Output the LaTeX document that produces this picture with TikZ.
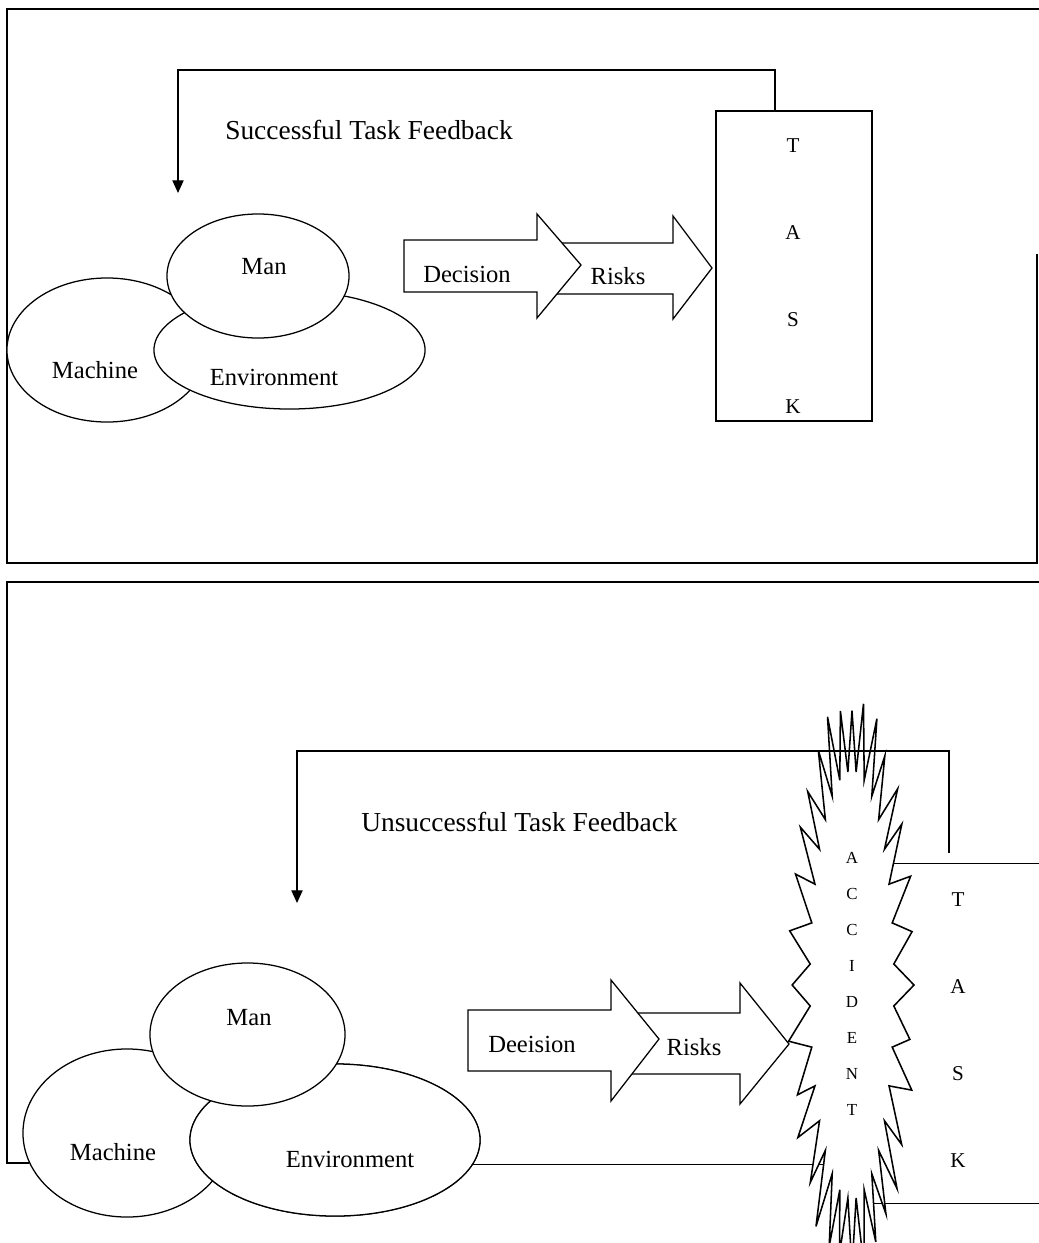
\documentclass[tikz,border=0pt]{standalone}
\usepackage{fontspec}
\setmainfont{Liberation Serif}
\usetikzlibrary{shapes.geometric,arrows.meta}
\begin{document}
\begin{tikzpicture}[x=0.025cm,y=-0.025cm,line width=0.9pt,line join=miter,
  blob/.style 2 args={ellipse,draw,fill=white,inner sep=0pt,
    minimum width=#1*0.05cm,minimum height=#2*0.05cm},
  lbl/.style={font=\fontsize{17.5}{20}\selectfont,inner sep=0pt},
  fblbl/.style={font=\fontsize{19.5}{22}\selectfont,inner sep=0pt},
  taskletters/.style={inner sep=0pt,align=center,font=\fontsize{15}{61.7}\selectfont},
  accletters/.style={inner sep=0pt,align=center,font=\fontsize{12}{25.6}\selectfont},
  fb/.style={-{Triangle[length=9pt,width=8pt]}},
  bigarrow/.style={draw,fill=white}]
\useasboundingbox (0,0) rectangle (1039,1243);
\clip (0,0) rectangle (1039,1243);

% ---------------- upper panel: successful task ----------------
\draw (1037,254) -- (1037,563) -- (7,563) -- (7,9) -- (1039,9);

\node[draw,inner sep=0pt,minimum width=156*0.025cm,minimum height=310*0.025cm]
  (taskT) at (794,266) {};
\node[taskletters] (taskTtext) at (793,276) {T\\A\\S\\K};

\coordinate (fbTtop) at (775,70);
\coordinate (fbTend) at (178,193);
\draw[fb] (taskT.north -| fbTtop) -- (fbTtop) -| (fbTend);
\node[fblbl] (fbTlbl) at (369,130) {Successful Task Feedback};

\node[blob={100}{72}] (machineT) at (107,350) {};
\node[blob={135.5}{59}] (envT) at (289.5,350) {};
\node[blob={91}{62}] (manT) at (258,276) {};
\node[lbl] at (264,267) {Man};
\node[lbl] at (95,370) {Machine};
\node[lbl] at (274,377) {Environment};

\draw[bigarrow] (540,243) -- (673,243) -- (673,216) -- (712,268)
  -- (673,319) -- (673,294) -- (540,294) -- cycle;
\draw[bigarrow] (404,240) -- (537,240) -- (537,214) -- (581,265)
  -- (537,318) -- (537,292) -- (404,292) -- cycle;
\node[lbl] (decT) at (467,274) {Decision};
\node[lbl] (riskT) at (618,276) {Risks};

% ---------------- lower panel: unsuccessful task ----------------
\node[blob={104}{84}] (machineB) at (127,1133) {};
\draw (machineB.197) -| (7,582) -- (1039,582);

\node[accletters] (accident) at (852,984) {A\\C\\C\\I\\D\\E\\N\\T};
\node[inner sep=0pt,minimum width=230*0.025cm,minimum height=339*0.025cm]
  (taskB) at (985,1033.5) {};
\draw (taskB.north west) -- (taskB.north east);
\draw (taskB.south west) -- (taskB.south east);
\node[taskletters] (taskBtext) at (958,1030) {T\\A\\S\\K};

\node[blob={145}{76}] (envB) at (335,1140) {};
\draw (envB.-10) -- (envB.-10 -| accident.center);

% the accident starburst
\draw[fill=white,line width=1.1pt]
  ({852+62}, 985)
  \foreach \i in {1,...,63} {
    -- ({852+(mod(\i,2)==1 ? 42 : 62*(1+0.05*sin(\i*97)))*cos(\i*5.625)},
        {985-(mod(\i,2)==1 ? 214 : 282*(1+0.03*sin(\i*131)))*sin(\i*5.625)})
  } -- cycle;
\node[accletters] at (accident) {A\\C\\C\\I\\D\\E\\N\\T};

\coordinate (fbBstart) at (949,853);
\coordinate (fbBtop) at (949,751);
\coordinate (fbBend) at (297,903);
\draw[fb] (fbBstart) -- (fbBtop) -| (fbBend);
\node[fblbl] (fbBlbl) at (519.5,822) {Unsuccessful Task Feedback};

\node[blob={145}{76}] at (envB) {};
\node[blob={97.5}{71.5}] (manB) at (247.5,1034.5) {};
\node[lbl] at (249,1018) {Man};
\node[lbl] at (113,1152) {Machine};
\node[lbl] at (350,1159) {Environment};

\draw[bigarrow] (615,1013) -- (740,1013) -- (740,983) -- (789,1044)
  -- (740,1104) -- (740,1074) -- (615,1074) -- cycle;
\draw[bigarrow] (468,1010) -- (611,1010) -- (611,980) -- (659,1039)
  -- (611,1101) -- (611,1071) -- (468,1071) -- cycle;
\node[lbl] (decB) at (532,1044) {Deeision};
\node[lbl] (riskB) at (694,1047) {Risks};
\end{tikzpicture}
\end{document}
